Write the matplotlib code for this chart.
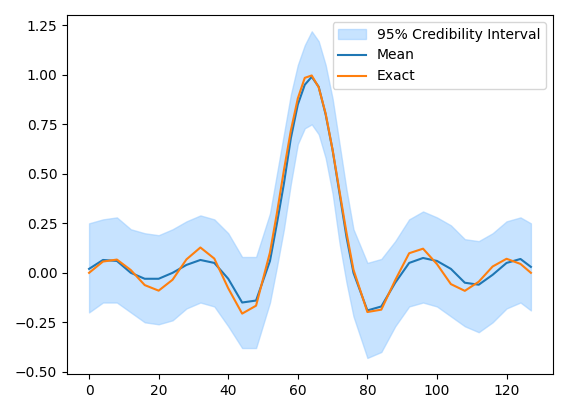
import matplotlib
matplotlib.use("Agg")
import matplotlib.pyplot as plt

x = [0, 4, 8, 12, 16, 20, 24, 28, 32, 36, 40, 44, 48, 52, 54, 56, 58, 60, 62, 64,
     66, 68, 70, 72, 74, 76, 80, 84, 88, 92, 96, 100, 104, 108, 112, 116, 120, 124, 127]
exact = [0.0, 0.057, 0.067, 0.014, -0.062, -0.090, -0.035, 0.068, 0.128, 0.072, -0.078,
         -0.206, -0.166, 0.103, 0.302, 0.518, 0.719, 0.881, 0.985, 0.997,
         0.937, 0.805, 0.621, 0.411, 0.202, 0.016, -0.198, -0.186, -0.037, 0.099,
         0.122, 0.044, -0.057, -0.091, -0.045, 0.032, 0.071, 0.045, 0.0]
mean = [0.02, 0.065, 0.06, 0.0, -0.03, -0.03, 0.0, 0.04, 0.065, 0.05, -0.03,
        -0.15, -0.14, 0.06, 0.25, 0.45, 0.68, 0.85, 0.95, 0.99,
        0.94, 0.80, 0.62, 0.40, 0.18, 0.0, -0.19, -0.17, -0.05, 0.05,
        0.075, 0.06, 0.02, -0.05, -0.06, -0.01, 0.05, 0.07, 0.03]
upper = [0.25, 0.27, 0.28, 0.22, 0.20, 0.19, 0.22, 0.26, 0.29, 0.27, 0.20,
         0.08, 0.08, 0.30, 0.50, 0.70, 0.90, 1.05, 1.15, 1.22,
         1.17, 1.05, 0.88, 0.65, 0.42, 0.22, 0.05, 0.07, 0.16, 0.27,
         0.31, 0.28, 0.24, 0.17, 0.16, 0.20, 0.26, 0.28, 0.25]
lower = [-0.20, -0.15, -0.15, -0.20, -0.25, -0.26, -0.24, -0.18, -0.15, -0.17, -0.27,
         -0.38, -0.38, -0.15, 0.03, 0.22, 0.45, 0.65, 0.73, 0.75,
         0.70, 0.58, 0.40, 0.15, -0.05, -0.22, -0.43, -0.40, -0.27, -0.17,
         -0.15, -0.17, -0.22, -0.27, -0.30, -0.25, -0.18, -0.15, -0.19]

fig, ax = plt.subplots(figsize=(5.68, 4.13), dpi=100)
ax.fill_between(x, lower, upper, color="#99ccff", alpha=0.55, label="95% Credibility Interval")
ax.plot(x, mean, color="C0", label="Mean")
ax.plot(x, exact, color="C1", label="Exact")
ax.legend(loc="upper right")
fig.tight_layout()
fig.savefig("out.png")
